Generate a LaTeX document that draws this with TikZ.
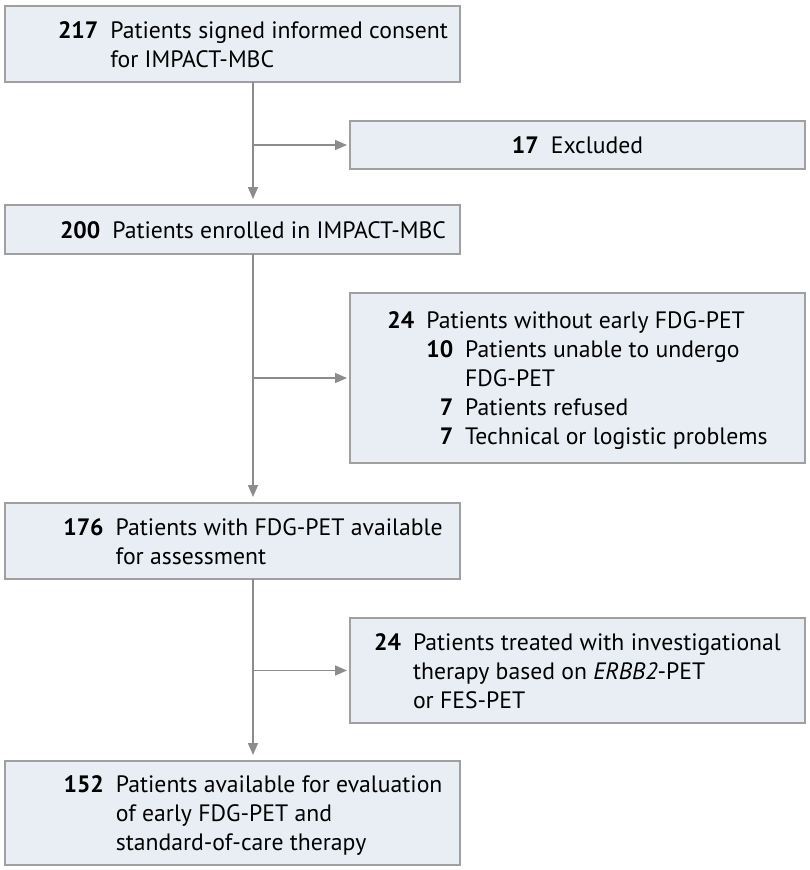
\documentclass[tikz,border=0pt]{standalone}
\usepackage{fontspec}
\setmainfont{PT Sans}
\usetikzlibrary{arrows.meta,positioning}
\definecolor{boxfill}{HTML}{E8EEF3}
\definecolor{boxline}{HTML}{A0A0A0}
\definecolor{flowline}{HTML}{8C8C8C}
\tikzstyle{every node}+=[inner sep=0pt,outer sep=0pt]
\tikzstyle{box}=[rectangle,draw=boxline,fill=boxfill,line width=1.4pt,minimum width=455pt,anchor=north west]
\tikzstyle{txt}=[font=\fontsize{23.7}{29}\selectfont,text=black,yshift=-3pt]
\tikzstyle{flow}=[draw=flowline,line width=1.6pt,-{Triangle[length=12pt,width=10pt]}]
\newcommand{\drawdown}[1]{
	\foreach \a/\b in {#1}{
		\draw[flow,shorten >=6pt] (\a.south -| spine) -- (\b.north -| spine);
	}
}
\newcommand{\drawside}[1]{
	\foreach \b in {#1}{
		\draw[flow,shorten >=3pt] (spine |- \b.west) -- (\b.west);
	}
}

\begin{document}
\begin{tikzpicture}[x=1pt,y=-1pt]

\useasboundingbox (0,0) rectangle (810,870);
\coordinate (spine) at (253,0);

% main column
\node[box,minimum height=76pt] (consent) at (5,6) {};
\node[box,minimum height=49pt] (enrolled) at (5,205) {};
\node[box,minimum height=76pt] (assessed) at (5,503) {};
\node[box,minimum height=104pt] (evaluated) at (5,761) {};

% side boxes
\node[box,minimum height=48pt] (excluded) at (350,121) {};
\node[box,minimum height=170pt] (noearly) at (350,293) {};
\node[box,minimum height=105pt] (treated) at (350,618) {};

\node[txt] (consent-t) at ([xshift=20.5pt]consent.center) {%
\begin{tabular}{@{}r@{\hspace{12pt}}l@{}}
\textbf{217} & Patients signed informed consent\\
 & for IMPACT-MBC
\end{tabular}};
\node[txt] (enrolled-t) at ([xshift=20.5pt]enrolled.center) {%
\begin{tabular}{@{}r@{\hspace{12pt}}l@{}}
\textbf{200} & Patients enrolled in IMPACT-MBC
\end{tabular}};
\node[txt] (assessed-t) at ([xshift=20.5pt]assessed.center) {%
\begin{tabular}{@{}r@{\hspace{12pt}}l@{}}
\textbf{176} & Patients with FDG-PET available\\
 & for assessment
\end{tabular}};
\node[txt] (evaluated-t) at ([xshift=20.5pt]evaluated.center) {%
\begin{tabular}{@{}r@{\hspace{12pt}}l@{}}
\textbf{152} & Patients available for evaluation\\
 & of early FDG-PET and\\
 & standard-of-care therapy
\end{tabular}};

\node[txt] (excluded-t) at (excluded.center) {%
\begin{tabular}{@{}r@{\hspace{12pt}}l@{}}
\textbf{17} & Excluded
\end{tabular}};
\node[txt] (noearly-t) at (noearly.center) {%
\begin{tabular}{@{}r@{\hspace{12pt}}r@{\hspace{12pt}}l@{}}
\textbf{24} & \multicolumn{2}{@{}l@{}}{Patients without early FDG-PET}\\
 & \textbf{10} & Patients unable to undergo\\
 & & FDG-PET\\
 & \textbf{7} & Patients refused\\
 & \textbf{7} & Technical or logistic problems
\end{tabular}};
\node[txt] (treated-t) at (treated.center) {%
\begin{tabular}{@{}r@{\hspace{12pt}}l@{}}
\textbf{24} & Patients treated with investigational\\
 & therapy based on \textit{ERBB2}-PET\\
 & or FES-PET
\end{tabular}};

\drawdown{consent/enrolled,enrolled/assessed,assessed/evaluated}
\drawside{excluded,noearly,treated}

\end{tikzpicture}
\end{document}
